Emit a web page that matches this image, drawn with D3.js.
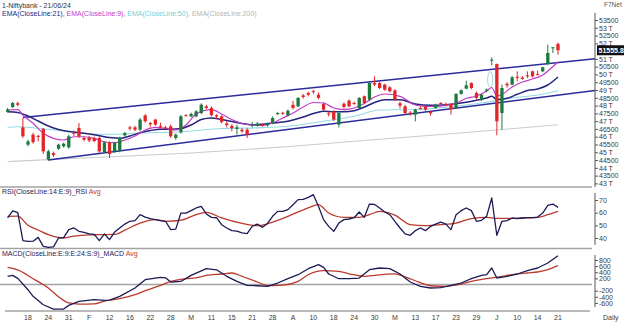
<!DOCTYPE html>
<html><head><meta charset="utf-8">
<script src="https://cdn.jsdelivr.net/npm/d3@7"></script>
<style>
html,body{margin:0;padding:0;background:#fff;}
svg{display:block;font-family:"Liberation Sans",Arial,sans-serif;}
</style></head><body>
<svg id="chart" width="624" height="323"></svg>
<script>
// Nifty Bank daily bars, 12 Jan 2024 - 21 Jun 2024
const dates = [
"2024-01-12","2024-01-15","2024-01-16","2024-01-17","2024-01-18","2024-01-19","2024-01-20","2024-01-23","2024-01-24","2024-01-25","2024-01-29","2024-01-30","2024-01-31",
"2024-02-01","2024-02-02","2024-02-05","2024-02-06","2024-02-07","2024-02-08","2024-02-09","2024-02-12","2024-02-13","2024-02-14","2024-02-15","2024-02-16","2024-02-19","2024-02-20","2024-02-21","2024-02-22","2024-02-23","2024-02-26","2024-02-27","2024-02-28","2024-02-29",
"2024-03-01","2024-03-02","2024-03-04","2024-03-05","2024-03-06","2024-03-07","2024-03-11","2024-03-12","2024-03-13","2024-03-14","2024-03-15","2024-03-18","2024-03-19","2024-03-20","2024-03-21","2024-03-22","2024-03-26","2024-03-27","2024-03-28",
"2024-04-01","2024-04-02","2024-04-03","2024-04-04","2024-04-05","2024-04-08","2024-04-09","2024-04-10","2024-04-12","2024-04-15","2024-04-16","2024-04-18","2024-04-19","2024-04-22","2024-04-23","2024-04-24","2024-04-25","2024-04-26","2024-04-29","2024-04-30",
"2024-05-02","2024-05-03","2024-05-06","2024-05-07","2024-05-08","2024-05-09","2024-05-10","2024-05-13","2024-05-14","2024-05-15","2024-05-16","2024-05-17","2024-05-18","2024-05-21","2024-05-22","2024-05-23","2024-05-24","2024-05-27","2024-05-28","2024-05-29","2024-05-30","2024-05-31",
"2024-06-03","2024-06-04","2024-06-05","2024-06-06","2024-06-07","2024-06-10","2024-06-11","2024-06-12","2024-06-13","2024-06-14","2024-06-18","2024-06-19","2024-06-20","2024-06-21"];

const open = [47600,47910,48150,46600,45490,46130,46050,46500,44530,44950,45230,45380,45320,
46250,46560,45920,45920,45900,45920,45018,45640,45060,45100,46090,46600,46600,46450,47370,46880,47100,46700,46600,46670,45920,
46280,47380,47310,47310,47520,47950,47850,47380,47310,46850,46700,46500,46450,46450,46750,46710,46750,46730,46880,
47460,47540,47370,48050,47950,48650,48810,48950,48700,48100,47500,47630,46780,48120,48320,48170,47850,48600,48380,49450,
49450,49345,49170,48980,48150,47950,47550,47420,47850,47950,47600,47850,48170,48100,48100,47850,48750,49090,49450,48810,48380,48950,
50900,50670,47520,49400,49345,49850,49800,49950,50200,50020,50200,50673,51700,51960];
const high = [47850,48230,48250,47200,45810,46250,46130,46560,45170,45050,45550,45620,46130,
46400,46880,46000,46050,46000,46025,45700,45700,45650,46000,46300,46700,46700,47200,47450,46950,47150,46900,46700,46780,46200,
47400,47450,47550,47700,48150,48050,47950,47450,47400,47000,46800,46770,46550,46550,46950,46950,46850,46900,47300,
47600,47600,47750,48300,48550,48750,48900,48980,48850,48200,47600,47700,47600,48200,48400,48250,48550,48650,49500,49880,
49550,49400,49250,49050,48250,48050,47650,47800,47950,48050,47650,48120,48220,48200,48150,48800,49050,49600,49500,48900,48750,49100,
51100,50700,49350,49500,49900,50200,49900,50200,50250,50260,50500,51915,51760,52050];
const low = [47550,47845,47950,45920,45380,45550,45700,44890,44460,44700,45150,45300,45230,
46050,45920,45700,45650,45650,44950,44950,44630,44950,45000,46000,46400,46350,46350,46900,46600,46700,46550,46500,45920,45800,
46200,47300,47250,47250,47450,47780,47300,47150,46850,46600,46350,46130,46250,45920,46600,46650,46650,46650,46800,
47400,47400,47300,47750,47900,48450,48600,48750,48400,47650,47300,47000,46600,47800,47900,48050,47800,48100,48300,49250,
49050,48950,48850,48300,47800,47450,47350,46990,47750,47650,47350,47800,48100,47950,47420,47800,48700,49050,49050,48400,48300,48850,
50590,46090,46450,49150,49300,49560,49650,49770,49800,49950,50150,50600,51380,51270];
const close = [47750,48167,48050,46030,45700,45650,46000,45060,45060,44820,45490,45550,46025,
46200,46025,45810,45750,45720,45060,45640,44890,45600,45920,46240,46520,46450,47100,46990,46800,46780,46650,46570,46030,46130,
47310,47360,47460,47630,48060,47850,47380,47300,46950,46750,46550,46600,46350,46130,46780,46840,46730,46840,47200,
47520,47520,47670,47850,48490,48550,48700,48920,48500,47740,47450,47100,47520,47910,47950,48150,48490,48170,49450,49350,
49130,49020,48920,48380,48000,47520,47480,47740,47830,47740,47500,48060,48150,48050,47780,48750,48980,49300,49130,48490,48700,49020,
50950,46990,49130,49300,49816,49780,49720,49900,49880,50000,50460,51380,51744,51555.8];

// Moving averages (bar index / value)
const ema9Idx = [0,2,3,5,7,9,11,13,15,17,19,21,23,25,27,29,31,33,35,37,40,42,44,46,48,50,52,54,56,58,60,62,64,66,68,70,72,74,77,80,82,84,86,88,90,92,94,95,96,97,99,101,103,105,106,108];
const ema9Val = [47716,47747,47394,46861,46218,45897,45788,45999,45999,45897,45678,45614,45788,46045,46430,46604,46539,46430,46752,47459,47735,47459,47105,46848,46752,46732,46880,47202,47523,47908,48198,48166,47844,47747,47844,48133,48551,48744,48596,48037,47953,47953,48018,48166,48455,48616,48937,49162,48616,48712,49194,49515,49708,49965,50222,50801];
const ema21Idx = [0,2,4,6,8,10,12,14,16,18,20,22,24,26,28,30,32,34,36,38,40,42,44,46,48,50,52,54,56,58,60,62,64,66,68,70,72,74,77,80,83,86,89,92,94,95,96,98,100,102,104,106,108];
const ema21Val = [47607,47555,47330,47009,46687,46462,46334,46256,46173,46064,45948,45897,46045,46256,46398,46475,46475,46526,46752,47105,47202,47105,46976,46848,46771,46797,46880,46944,47073,47266,47491,47632,47607,47607,47671,47908,48198,48378,48378,48101,48018,48056,48166,48345,48487,48596,48391,48468,48725,48969,49065,49322,49837];
const ema50Idx = [0,2,5,8,12,15,18,21,25,28,31,34,37,42,49,55,62,68,73,80,86,93,99,104,108];
const ema50Val = [46604,46642,46578,46475,46321,46218,46154,46154,46218,46256,46282,46321,46398,46526,46571,46668,46989,47310,47716,47747,47889,48166,48487,48680,48956];
const ema200Idx = [0,18,36,54,73,90,108];
const ema200Val = [44406,44676,44952,45338,45833,46270,46771];

// Channel anchors (bar index / price)
const upperIdx = [3,108];
const upperVal = [47234,50768];
const lowerIdx = [8,108];
const lowerVal = [44508,48667];

// RSI(14) and its 9-period average
const rsi = [55.8,61.5,60,37.9,37.4,37.5,40.5,33.4,32.6,33,40,40.3,46.6,47.9,45.3,44.5,43.2,42.9,37.9,43.2,
38.7,44.7,47.9,51,53.2,53.7,58.4,56.5,55.3,54.5,53.7,53.2,46.6,47,59.7,59.7,61.6,63.7,65,59,
56.3,56,50.5,47.9,45.8,45.5,44,43.5,49.2,51,48.4,51.5,57.1,61,61,62.4,66.3,70.3,70.5,72.1,
74.2,65,54.5,49.2,45.3,51.8,54.5,55,56,60.5,56.3,66.8,66.5,63.7,60.5,58.4,53.2,47.9,43.2,42.1,
45.8,47.9,45.8,49.2,51,52.6,51,46.6,58.4,61.6,63.7,61.6,53.2,54,57.1,71.6,42.1,53.2,53.7,55.8,
55.3,55.8,56.1,56.1,56.5,59.7,65.8,66.8,64.2];
const rsiAvgIdx = [0,2,4,6,8,11,13,16,18,21,23,26,29,31,34,37,39,42,46,49,52,55,59,61,63,66,69,71,73,76,79,82,85,88,91,94,96,98,101,104,106,108];
const rsiAvgVal = [57.1,57.3,50,46.3,42.6,40,41.5,42.5,42.6,42.8,46.2,51.8,54.5,53.2,54,58.5,60.3,55.8,51.5,49.7,52.6,57.1,63.8,66.3,59.7,56.3,56.3,58.5,61,58,50.5,49.7,50.5,51.8,55.3,56.3,55.5,55.5,55.8,56.3,58.4,61];

// MACD(9,24,9) and signal
const macdIdx = [0,1,2,4,5,7,9,11,12,14,17,19,20,22,25,27,30,31,32,34,36,39,41,43,45,47,49,51,53,55,57,59,61,62,63,65,67,69,71,73,75,77,79,81,83,85,87,89,91,93,94,95,96,98,100,102,104,106,108];
const macdVal = [268,300,200,-170,-386,-660,-800,-800,-680,-550,-496,-520,-510,-386,-114,157,235,220,82,100,300,516,480,268,104,-26,-40,-59,49,189,320,516,647,560,343,189,189,210,484,539,520,343,82,-59,-114,-100,-26,49,189,300,320,539,212,268,343,451,539,702,941];
const macdSigIdx = [0,2,5,8,10,12,14,17,19,22,25,27,30,32,35,37,39,42,44,46,49,51,54,57,59,62,65,67,70,72,74,76,78,81,83,86,89,91,94,97,99,102,104,106,108];
const macdSigVal = [562,480,189,-114,-400,-600,-637,-630,-540,-464,-333,-202,-26,100,189,220,300,343,376,268,82,-38,-20,104,320,451,431,350,268,300,330,350,250,60,-40,-59,16,104,189,268,320,376,408,484,614];

// Axis labels
const xTickIdx = [4,8,12,16,20,24,28,32,36,40,44,48,52,56,60,64,68,72,76,80,84,88,92,96,100,104,108];
const xTickLabels = ["18","24","31","F","12","16","22","28","M","11","15","21","28","A","10","18","24","30","M","13","17","23","29","J","10","14","21"];
const priceTicks = d3.range(43000, 53501, 500).filter(v => v !== 51500);
const rsiTicks = [40,50,60,70];
const macdTicks = [800,600,400,200,-200,-400,-600];
const lastPrice = 51555.8;
const noteIdx = 94.7, notePrice = 49670;

const C = {
  up:"#1d7a3c", down:"#e1262a", ema21:"#25257f", ema9:"#c23cc4", ema50:"#93dbe4", ema200:"#cbcbcb",
  channel:"#2b2b9c", rsi:"#1b1b55", avg:"#bb3a2e", sep:"#a3a3a3", axis:"#555", text:"#3a3a3a"
};

const svg = d3.select("#chart");
const x = d3.scaleLinear().domain([0,108]).range([7.6,558]);
const yP = d3.scaleLinear().domain([43000,53500]).range([183.4,20]);
const yR = d3.scaleLinear().domain([40,70]).range([238,200]);
const yM = d3.scaleLinear().domain([-600,800]).range([302.9,260]);

// panel separators and MACD zero line
[[187,0,592],[248.6,0,592],[yM(0),0,592],[311,5,590]].forEach(([yy,x1,x2]) => {
  svg.append("line").attr("x1",x1).attr("x2",x2).attr("y1",yy).attr("y2",yy)
    .attr("stroke",C.sep).attr("stroke-width",1.5);
});

const pairs = (idx, val) => d3.zip(idx, val);
const drawLine = (g, data, ys, color, w, curve) => g.append("path").datum(data)
  .attr("fill","none").attr("stroke",color).attr("stroke-width",w).attr("stroke-linejoin","round")
  .attr("d", d3.line().x(d=>x(d[0])).y(d=>ys(d[1])).curve(curve || d3.curveMonotoneX));

// price panel
const gP = svg.append("g");
drawLine(gP, pairs(ema200Idx, ema200Val), yP, C.ema200, 1.1);
drawLine(gP, pairs(ema50Idx, ema50Val), yP, C.ema50, 1.1);

// channel, extended to the price axis
function channel(idx, val) {
  const p1 = [x(idx[0]), yP(val[0])], p2 = [x(idx[1]), yP(val[1])];
  const k = (p2[1]-p1[1])/(p2[0]-p1[0]);
  const xEnd = 595;
  gP.append("line").attr("x1",p1[0]).attr("y1",p1[1]).attr("x2",xEnd).attr("y2",p1[1]+k*(xEnd-p1[0]))
    .attr("stroke",C.channel).attr("stroke-width",1.5);
}
channel(upperIdx, upperVal);
channel(lowerIdx, lowerVal);

drawLine(gP, pairs(ema21Idx, ema21Val), yP, C.ema21, 1.5);
drawLine(gP, pairs(ema9Idx, ema9Val), yP, C.ema9, 1.2);

// candles
const bars = dates.map((d,i) => ({i, o:open[i], h:high[i], l:low[i], c:close[i]}));
const gC = gP.append("g");
gC.selectAll("line").data(bars).join("line")
  .attr("x1",d=>x(d.i)).attr("x2",d=>x(d.i)).attr("y1",d=>yP(d.h)).attr("y2",d=>yP(d.l))
  .attr("stroke",d=>d.c>=d.o?C.up:C.down).attr("stroke-width",1);
const bw = 3.3;
gC.selectAll("rect").data(bars).join("rect")
  .attr("x",d=>x(d.i)-bw/2).attr("width",bw)
  .attr("y",d=>yP(Math.max(d.o,d.c)))
  .attr("height",d=>Math.max(1, Math.abs(yP(d.o)-yP(d.c))))
  .attr("fill",d=>d.c>=d.o?C.up:C.down);

// note marker
gP.append("ellipse").attr("cx",x(noteIdx)).attr("cy",yP(notePrice)).attr("rx",2.6).attr("ry",7.7)
  .attr("fill","none").attr("stroke","#9fd8dc").attr("stroke-width",1);

// RSI panel
const gR = svg.append("g");
drawLine(gR, pairs(rsiAvgIdx, rsiAvgVal), yR, C.avg, 1.3);
drawLine(gR, rsi.map((v,i)=>[i,v]), yR, C.rsi, 1.3, d3.curveLinear);

// MACD panel
const gM = svg.append("g");
drawLine(gM, pairs(macdSigIdx, macdSigVal), yM, C.avg, 1.3);
drawLine(gM, pairs(macdIdx, macdVal), yM, C.rsi, 1.3, d3.curveLinear);

// right axes
function rightAxis(scale, ticks, fmt, y1, y2) {
  const g = svg.append("g").attr("transform","translate(595,0)");
  g.call(d3.axisRight(scale).tickValues(ticks).tickFormat(fmt).tickSize(3).tickSizeOuter(0).tickPadding(1));
  g.select(".domain").remove();
  g.append("line").attr("x1",0).attr("x2",0).attr("y1",y1).attr("y2",y2).attr("stroke",C.axis);
  g.selectAll(".tick line").attr("stroke",C.axis);
  g.selectAll(".tick text").attr("fill",C.text).style("font-size","7px")
    .style("font-family","'Liberation Sans',Arial,sans-serif");
}
rightAxis(yP, priceTicks, v => v % 1000 === 0 ? (v/1000)+" T" : String(v), 13, 187);
rightAxis(yR, rsiTicks, String, 193, 245);
rightAxis(yM, macdTicks, String, 255, 307);

// last price tag
svg.append("rect").attr("x",597).attr("y",yP(lastPrice)-5).attr("width",27).attr("height",10).attr("fill","#111");
svg.append("text").attr("x",598.5).attr("y",yP(lastPrice)+2.6).attr("fill","#fff")
  .style("font-size","7px").style("font-weight","bold").text(lastPrice.toFixed(1));

// date axis
svg.append("g").selectAll("text").data(xTickIdx).join("text")
  .attr("x",i=>x(i)).attr("y",320).attr("text-anchor","middle").attr("fill",C.text)
  .style("font-size","7px").text((d,k)=>xTickLabels[k]);
svg.append("text").attr("x",603).attr("y",320).attr("fill",C.text).style("font-size","7px").text("Daily");

// titles and legends
svg.append("text").attr("x",2).attr("y",7.5).attr("fill","#333").style("font-size","7px").text("1-Niftybank - 21/06/24");
svg.append("text").attr("x",604).attr("y",7).attr("fill","#555").style("font-size","6.5px").text("F7Net");
const leg = svg.append("text").attr("x",2).attr("y",15.5).style("font-size","7px");
[["EMA(CloseLine:21), ",C.ema21],["EMA(CloseLine:9), ",C.ema9],["EMA(CloseLine:50), ","#6fd0d8"],["EMA(CloseLine:200)","#b5b5b5"]]
  .forEach(([t,c]) => leg.append("tspan").attr("fill",c).text(t));
const rl = svg.append("text").attr("x",2).attr("y",194).style("font-size","7px");
rl.append("tspan").attr("fill",C.rsi).text("RSI(CloseLine:14:E:9)_RSI ");
rl.append("tspan").attr("fill",C.avg).text("Avg");
const ml = svg.append("text").attr("x",2).attr("y",255.5).style("font-size","7px");
ml.append("tspan").attr("fill",C.rsi).text("MACD(CloseLine:E:9:E:24:S:9)_MACD ");
ml.append("tspan").attr("fill",C.avg).text("Avg");
</script>
</body></html>
